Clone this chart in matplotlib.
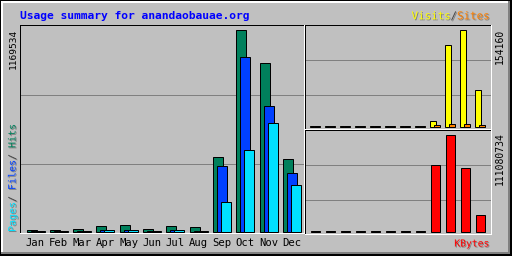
import matplotlib
matplotlib.use('Agg')
import matplotlib.pyplot as plt
from matplotlib.patches import Rectangle
import matplotlib.patheffects as pe
import matplotlib.transforms as mtrans
import numpy as np

# ---------------- data ----------------
title = "Usage summary for anandaobauae.org"
months = ['Jan', 'Feb', 'Mar', 'Apr', 'May', 'Jun', 'Jul', 'Aug', 'Sep', 'Oct', 'Nov', 'Dec']
hits = [8500, 8500, 14000, 32000, 37000, 14000, 32000, 26000, 434000, 1169534, 978500, 422700]
files = [4000, 4000, 4500, 9500, 9500, 4500, 9500, 4500, 382000, 1013000, 729500, 341600]
pages = [3500, 3500, 4000, 9000, 9000, 4000, 9000, 4000, 173700, 474800, 631100, 268100]
visits = [1500, 1500, 1500, 1500, 1500, 1500, 1500, 1500, 9000, 130100, 154160, 57700]
sites = [1200, 1200, 1200, 1200, 1200, 1200, 1200, 1200, 3000, 4500, 4500, 3000]
kbytes = [1100000, 1100000, 1100000, 1100000, 1100000, 1100000, 1100000, 1100000,
          76700000, 111080734, 73300000, 18700000]
max_hits_label = "1169534"
max_visits_label = "154160"
max_kbytes_label = "111080734"

# ---------------- style ----------------
C_BG = '#c0c0c0'
C_HITS = '#00805c'
C_FILES = '#0040ff'
C_PAGES = '#00e0ff'
C_VISITS = '#ffff00'
C_SITES = '#ff8000'
C_KB = '#ff0000'
C_GRID = '#808080'
C_SHADOW = '#808080'
MONO = 'DejaVu Sans Mono'
LW = 0.72

W, H = 512, 256
fig = plt.figure(figsize=(W / 100, H / 100), dpi=100, facecolor=C_BG)


def box(x, y, w, h, c):
    fig.add_artist(Rectangle((x / W, 1 - (y + h) / H), w / W, h / H,
                             transform=fig.transFigure, facecolor=c,
                             edgecolor='none', lw=0))


def axes_px(x0, y0, x1, y1):
    ax = fig.add_axes([x0 / W, 1 - y1 / H, (x1 - x0) / W, (y1 - y0) / H])
    ax.axis('off')
    return ax


def ftext(x, y, s, **kw):
    return fig.text(x / W, 1 - y / H, s, **kw)


shadow = [pe.withSimplePatchShadow(offset=(0.72, -0.72), shadow_rgbFace=C_SHADOW, alpha=1.0)]

# ---------------- outer frame ----------------
box(0, 0, W, 1, 'black')
box(0, 0, 1, H, 'black')
box(1, 1, W - 2, 2, 'white')
box(1, 1, 2, H - 2, 'white')
box(508, 1, 2, 253, C_SHADOW)
box(1, 252, 509, 2, C_SHADOW)
box(510, 0, 2, H, 'black')
box(0, 254, W, 2, 'black')


def panel(x0, y0, x1, y1):
    # black top/left, white bottom/right (inset bevel)
    box(x0, y0, x1 - x0 + 1, 1, 'black')
    box(x0, y0, 1, y1 - y0 + 1, 'black')
    box(x0, y1, x1 - x0 + 1, 1, 'white')
    box(x1, y0, 1, y1 - y0 + 1, 'white')


panel(20, 25, 304, 233)
panel(305, 25, 491, 129)
panel(305, 130, 491, 234)

x = np.arange(len(months))


def grid(ax):
    for f in (1 / 3, 2 / 3):
        ax.plot([0, 1], [f, f], transform=ax.transAxes, color=C_GRID, lw=LW, zorder=0.5)


# ---------------- main panel ----------------
ax = axes_px(21, 26, 304, 233)
k = max(hits) / 202.0
ax.set_xlim((21 - 35.5) / 23.3, (304 - 35.5) / 23.3)
ax.set_ylim(-1.2 * k, 205.8 * k)
grid(ax)
bw = 10 / 23.3
off = 4 / 23.3
ax.bar(x - off, hits, bw, color=C_HITS, edgecolor='black', lw=LW, zorder=2)
ax.bar(x, files, bw, color=C_FILES, edgecolor='black', lw=LW, zorder=3)
ax.bar(x + off, pages, bw, color=C_PAGES, edgecolor='black', lw=LW, zorder=4)

tr = mtrans.blended_transform_factory(ax.transData, fig.transFigure)
for i, m in enumerate(months):
    ax.text(i, 1 - 246.5 / H, m, transform=tr, ha='center', va='baseline',
            fontfamily=MONO, fontsize=7.6, color='black', clip_on=False)

# ---------------- visits / sites ----------------
ax2 = axes_px(306, 26, 491, 129)
k2 = max(visits) / 97.0
ax2.set_xlim((306 - 315) / 15, (491 - 315) / 15)
ax2.set_ylim(-2.2 * k2, 100.8 * k2)
grid(ax2)
vw = 6.4 / 15
voff = 2 / 15
ax2.bar(x - voff, visits, vw, color=C_VISITS, edgecolor='black', lw=LW, zorder=2)
ax2.bar(x + voff, sites, vw, color=C_SITES, edgecolor='black', lw=LW, zorder=3)

# ---------------- kbytes ----------------
ax3 = axes_px(306, 131, 491, 234)
k3 = max(kbytes) / 97.0
ax3.set_xlim((306 - 315) / 15, (491 - 315) / 15)
ax3.set_ylim(-2.2 * k3, 100.8 * k3)
grid(ax3)
ax3.bar(x, kbytes, 9 / 15, color=C_KB, edgecolor='black', lw=LW, zorder=2)

# ---------------- texts ----------------
ftext(20, 19.3, title, color='#0000ff', fontfamily=MONO, fontweight='bold',
      fontsize=8.1, ha='left', va='baseline')

for s, c, px in (("Visits", C_VISITS, 411.5), ("/", '#404040', 450.5), ("Sites", C_SITES, 457.0)):
    ftext(px, 19.3, s, color=c, fontfamily=MONO, fontsize=7.8, ha='left', va='baseline',
          path_effects=shadow)

ftext(489.5, 246.5, "KBytes", color=C_KB, fontfamily=MONO, fontsize=7.0, ha='right',
      va='baseline', path_effects=shadow)

for s, c, py in (("Pages", C_PAGES, 232), ("/", '#404040', 202), ("Files", C_FILES, 190),
                 ("/", '#404040', 160), ("Hits", C_HITS, 148)):
    ftext(12.5, py, s, color=c, fontfamily=MONO, fontsize=7.2, rotation=90,
          rotation_mode='anchor', ha='left', va='center', path_effects=shadow)

ftext(13, 28.3, max_hits_label, color='black', fontfamily=MONO, fontsize=6.8,
      rotation=90, ha='center', va='top')
ftext(500, 28.3, max_visits_label, color='black', fontfamily=MONO, fontsize=7.0,
      rotation=90, ha='center', va='top')
ftext(500, 132.3, max_kbytes_label, color='black', fontfamily=MONO, fontsize=7.0,
      rotation=90, ha='center', va='top')

fig.savefig('out.png', dpi=100, facecolor=C_BG)
